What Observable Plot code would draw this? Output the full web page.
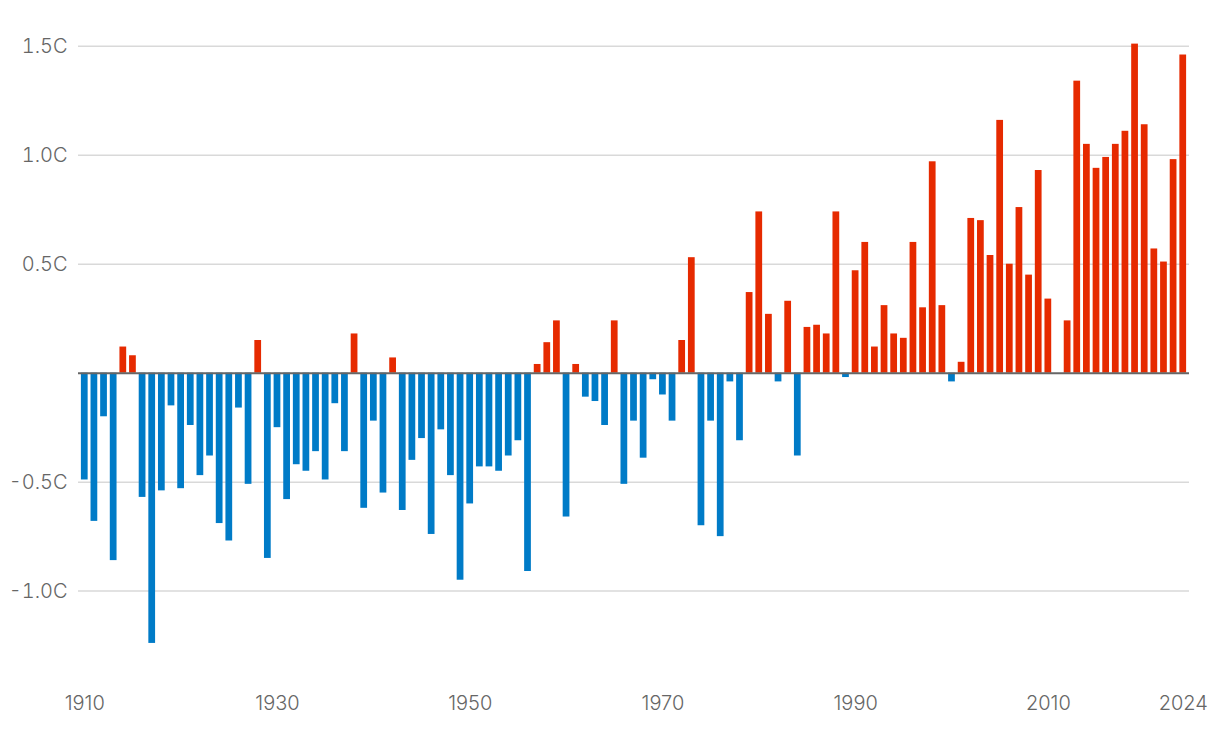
<!DOCTYPE html>
<html><head><meta charset="utf-8">
<script src="https://cdn.jsdelivr.net/npm/d3@7"></script>
<script src="https://cdn.jsdelivr.net/npm/@observablehq/plot@0.6"></script>
<style>body{margin:0;background:#fff}</style>
</head><body><div id="chart"></div>
<script>
const years = [
 1910,1911,1912,1913,1914,1915,1916,1917,1918,1919,
 1920,1921,1922,1923,1924,1925,1926,1927,1928,1929,
 1930,1931,1932,1933,1934,1935,1936,1937,1938,1939,
 1940,1941,1942,1943,1944,1945,1946,1947,1948,1949,
 1950,1951,1952,1953,1954,1955,1956,1957,1958,1959,
 1960,1961,1962,1963,1964,1965,1966,1967,1968,1969,
 1970,1971,1972,1973,1974,1975,1976,1977,1978,1979,
 1980,1981,1982,1983,1984,1985,1986,1987,1988,1989,
 1990,1991,1992,1993,1994,1995,1996,1997,1998,1999,
 2000,2001,2002,2003,2004,2005,2006,2007,2008,2009,
 2010,2011,2012,2013,2014,2015,2016,2017,2018,2019,
 2020,2021,2022,2023,2024];
const anomalies = [
 -0.49,-0.68,-0.20,-0.86,0.12,0.08,-0.57,-1.24,-0.54,-0.15,
 -0.53,-0.24,-0.47,-0.38,-0.69,-0.77,-0.16,-0.51,0.15,-0.85,
 -0.25,-0.58,-0.42,-0.45,-0.36,-0.49,-0.14,-0.36,0.18,-0.62,
 -0.22,-0.55,0.07,-0.63,-0.40,-0.30,-0.74,-0.26,-0.47,-0.95,
 -0.60,-0.43,-0.43,-0.45,-0.38,-0.31,-0.91,0.04,0.14,0.24,
 -0.66,0.04,-0.11,-0.13,-0.24,0.24,-0.51,-0.22,-0.39,-0.03,
 -0.10,-0.22,0.15,0.53,-0.70,-0.22,-0.75,-0.04,-0.31,0.37,
 0.74,0.27,-0.04,0.33,-0.38,0.21,0.22,0.18,0.74,-0.02,
 0.47,0.60,0.12,0.31,0.18,0.16,0.60,0.30,0.97,0.31,
 -0.04,0.05,0.71,0.70,0.54,1.16,0.50,0.76,0.45,0.93,
 0.34,0,0.24,1.34,1.05,0.94,0.99,1.05,1.11,1.51,
 1.14,0.57,0.51,0.98,1.46];
const yTicks = [-1, -0.5, 0.5, 1, 1.5];
const xTicks = [1910, 1930, 1950, 1970, 1990, 2010, 2024];
const warmColor = "#e62a00", coolColor = "#007bc7";
const data = years.map((year, i) => ({year, value: anomalies[i]}));

const chart = Plot.plot({
  width: 1220, height: 730,
  marginLeft: 78, marginRight: 31, marginTop: 24, marginBottom: 74,
  style: {fontFamily: "Inter, 'Open Sans', sans-serif", fontSize: "20px", fontWeight: 300, color: "#666", background: "#fff"},
  x: {type: "band", domain: years, padding: 0.3, axis: null},
  y: {domain: [-1.3, 1.6], axis: null},
  marks: [
    Plot.gridY(yTicks, {stroke: "#d9d9d9", strokeOpacity: 1, strokeWidth: 1.5}),
    Plot.barY(data, {x: "year", y: "value", fill: d => d.value >= 0 ? warmColor : coolColor}),
    Plot.ruleY([0], {stroke: "#666", strokeWidth: 2}),
    Plot.axisY(yTicks, {tickSize: 0, tickPadding: 11, label: null, tickFormat: d => d.toFixed(1) + "C", fill: "#666", fontSize: 20}),
    Plot.axisX(xTicks, {tickSize: 0, tickPadding: 39, label: null, tickFormat: d => String(d), fill: "#666", fontSize: 20})
  ]
});
document.getElementById("chart").appendChild(chart);
</script>
</body></html>
